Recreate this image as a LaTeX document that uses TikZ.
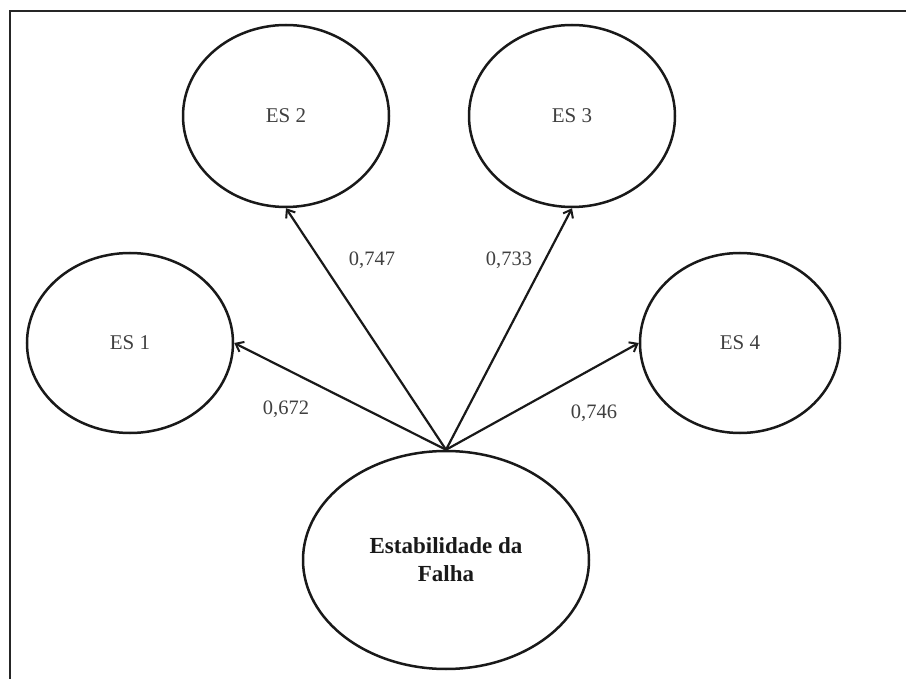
\documentclass[tikz,border=0pt]{standalone}
\usepackage{fontspec}
\setmainfont{Liberation Serif}
\usetikzlibrary{shapes.geometric,arrows.meta}
\begin{document}
\begin{tikzpicture}[x=1pt,y=-1pt,
  latent/.style={draw=black!90,line width=2.5pt,ellipse,inner sep=0pt,
    text=black!75,font=\fontsize{21}{24}\selectfont},
  loading/.style={draw=black!90,line width=2.2pt,
    -{Straight Barb[length=7pt,width=11pt,line width=2pt]}},
  coef/.style={text=black!75,font=\fontsize{20.5}{24}\selectfont},
  frameline/.style={draw=black!85,line width=2.6pt}]
  \useasboundingbox (0,0) rectangle (906,679);
  \fill[white] (-10,-10) rectangle (916,689);

  % outer frame (open to the right and bottom)
  \draw[frameline] (916,11) -- (10,11) -- (10,689);

  % indicators
  \node[latent,minimum width=206pt,minimum height=180pt] (es1) at (130,343) {ES 1};
  \node[latent,minimum width=206pt,minimum height=182pt] (es2) at (286,116) {ES 2};
  \node[latent,minimum width=206pt,minimum height=182pt] (es3) at (572,116) {ES 3};
  \node[latent,minimum width=200pt,minimum height=180pt] (es4) at (740,343) {ES 4};

  % construct
  \node[latent,minimum width=286pt,minimum height=218pt,align=center,
        text=black!90,font=\fontsize{23}{28}\selectfont\bfseries]
        (ef) at (446,560) {Estabilidade da\\Falha};

  % factor loadings
  \draw[loading] (ef.north) -- (es1.east);
  \draw[loading] (ef.north) -- (es2.south);
  \draw[loading] (ef.north) -- (es3.south);
  \draw[loading] (ef.north) -- (es4.west);

  \node[coef] (l1) at (286,409) {0,672};
  \node[coef] (l2) at (372,260) {0,747};
  \node[coef] (l3) at (509,260) {0,733};
  \node[coef] (l4) at (594,413) {0,746};
\end{tikzpicture}
\end{document}
